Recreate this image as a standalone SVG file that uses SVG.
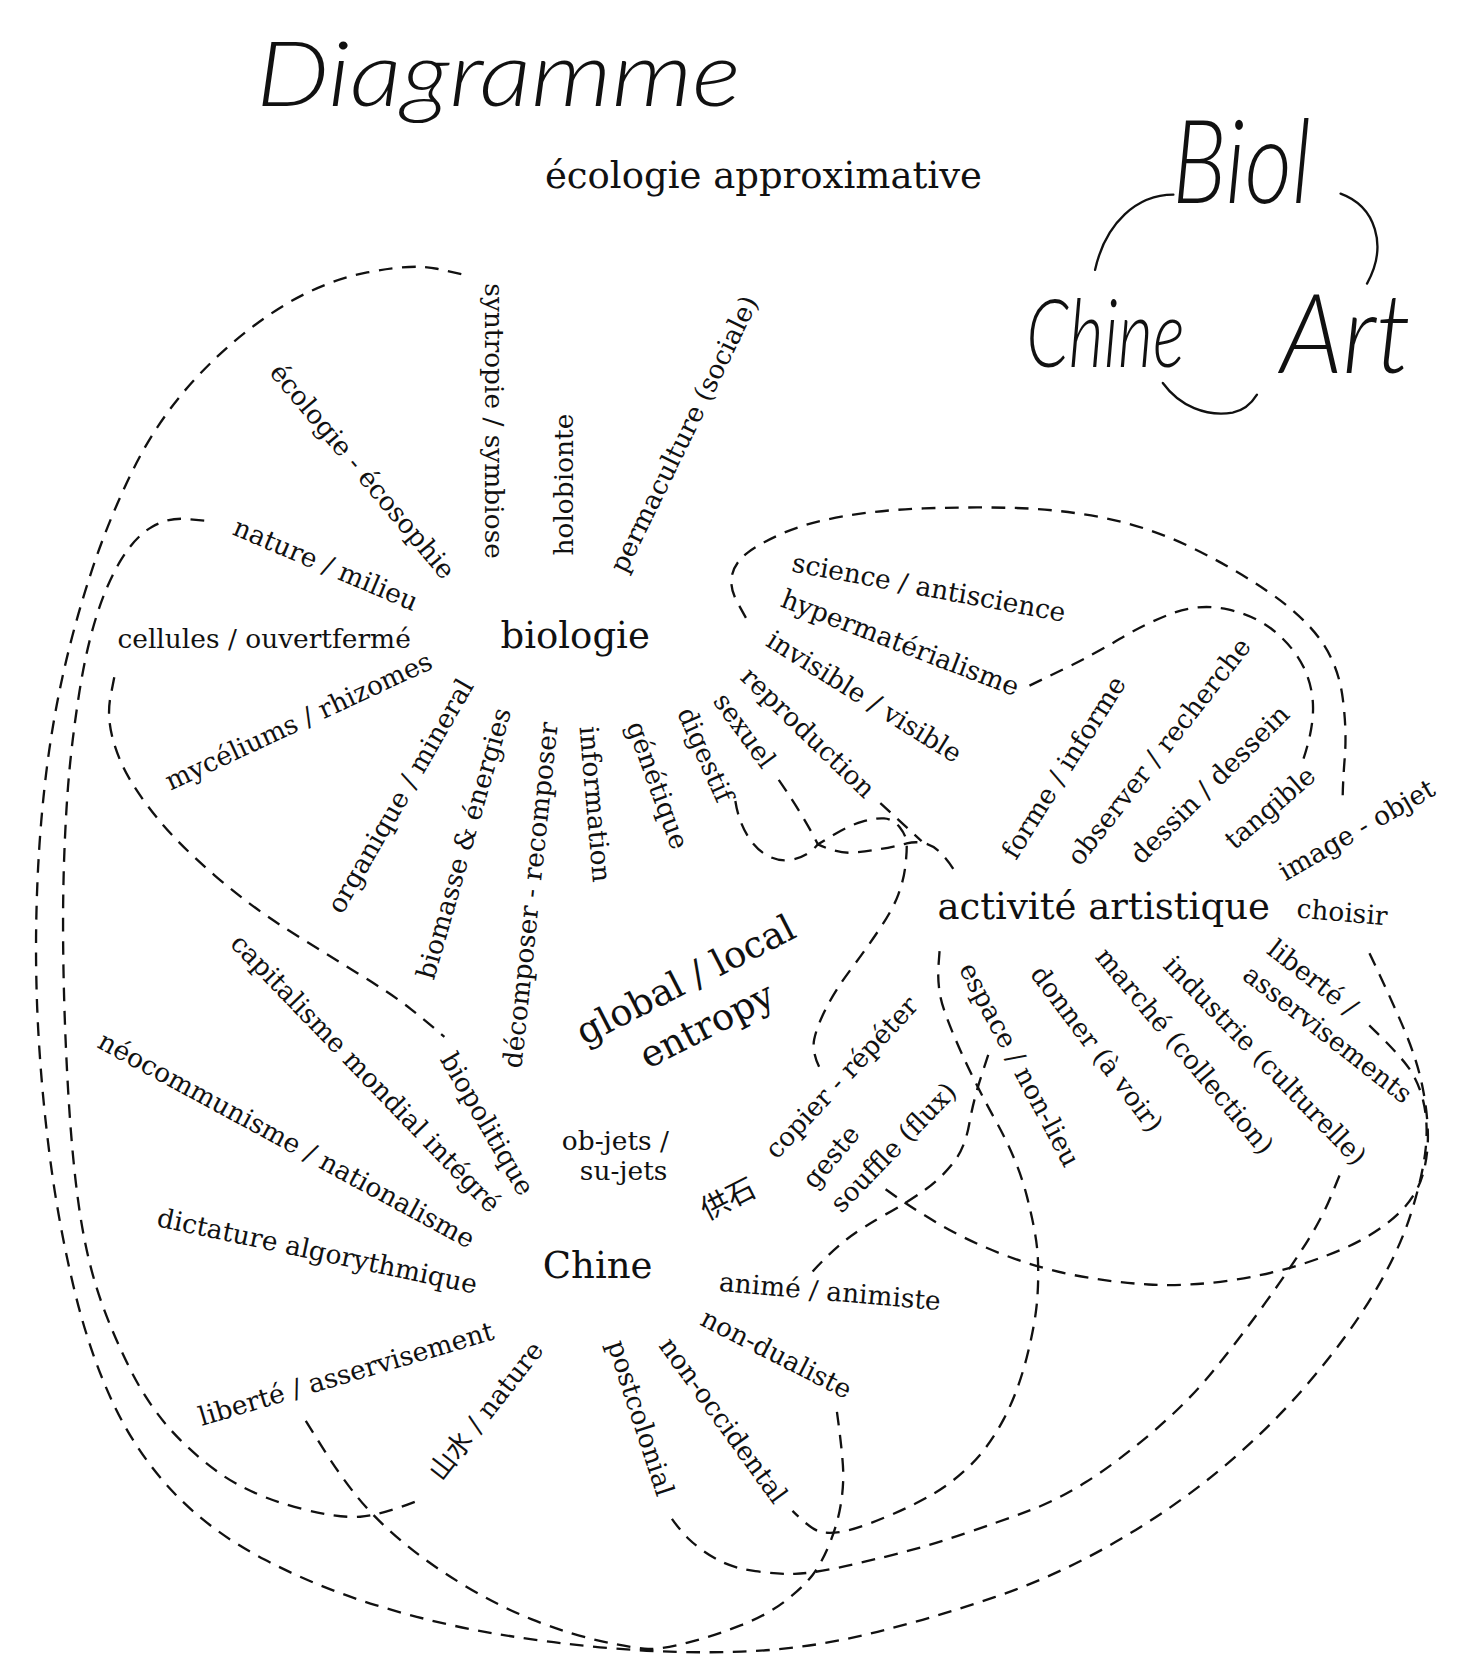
<svg xmlns="http://www.w3.org/2000/svg" width="1458" height="1659" viewBox="0 0 1458 1659">
<style>
.t{font-family:"DejaVu Serif","Noto Sans CJK SC",serif;font-size:25px;fill:#111}
.m{text-anchor:middle;dominant-baseline:central}
.hub{font-size:35px}
.hw{font-family:"Lato","Inter",sans-serif;font-weight:300;font-style:italic;fill:#111}
.c{fill:none;stroke:#111;stroke-width:2.2;stroke-dasharray:13 9}
.a{fill:none;stroke:#111;stroke-width:2.2;stroke-linecap:round}
</style>
<rect width="1458" height="1659" fill="#fff"/>
<g transform="scale(1.05806)">
<g id="title">
<text class="hw" transform="translate(242,100) scale(1.15,1)" style="font-size:85px">Diagramme</text>
<text class="t" x="515" y="178" style="font-size:35px">écologie approximative</text>
</g>
<g id="legend">
<text class="hw" transform="translate(1108,192) scale(0.79,1)" style="font-size:110px">Biol</text>
<text class="hw" transform="translate(970,347) scale(0.71,1)" style="font-size:90px">Chine</text>
<text class="hw" transform="translate(1210,353) scale(0.92,1)" style="font-size:105px">Art</text>
<path class="a" d="M1109,184 C1075,184 1045,210 1035,255"/>
<path class="a" d="M1267,183 C1300,195 1312,232 1292,268"/>
<path class="a" d="M1099,362 C1115,384 1140,394 1165,390 C1175,388 1183,381 1188,373"/>
</g>
<g id="connectors">
<path class="c" d="M436,259 L413,254 Q390,249 347,257.5 Q304,266 263,292 Q222,318 186,356.5 Q150,395 126.5,442.5 Q103,490 86.5,540 Q70,590 59,640 Q48,690 42,745 Q36,800 34.5,860 Q33,920 36.5,980 Q40,1040 48,1100 Q56,1160 70.5,1220 Q85,1280 107.5,1327.5 Q130,1375 165,1411.5 Q200,1448 250,1474 Q300,1500 355,1517 Q410,1534 465,1543.5 Q520,1553 580.5,1558 Q641,1563 700.5,1561 Q760,1559 820,1544.5 Q880,1530 940,1509.5 Q1000,1489 1055,1457 Q1110,1425 1155,1387.5 Q1200,1350 1237.5,1306 Q1275,1262 1299,1221.5 Q1323,1181 1334,1145.5 Q1345,1110 1347.5,1085 Q1350,1060 1345,1040 Q1340,1020 1329,1006 Q1318,992 1292,967"/>
<path class="c" d="M193,492 L176,490.5 Q159,489 143.5,498 Q128,507 114.5,529 Q101,551 91,583 Q81,615 74.5,657.5 Q68,700 65,735 Q62,770 60.5,815 Q59,860 60,916.5 Q61,973 64.5,1032.5 Q68,1092 74,1136 Q80,1180 90.5,1214.5 Q101,1249 121.5,1291 Q142,1333 171,1361.5 Q200,1390 226.5,1404 Q253,1418 287,1426.5 Q321,1435 340.5,1433.5 Q360,1432 393,1419"/>
<path class="c" d="M108,640 L104.5,658 Q101,676 106,696 Q111,716 121.5,734.5 Q132,753 150.5,775.5 Q169,798 202.5,827 Q236,856 270,877.5 Q304,899 337.5,919.5 Q371,940 388,953.5 Q405,967 420,980"/>
<path class="c" d="M289,1343 L305,1368.5 Q321,1394 337.5,1414.5 Q354,1435 379.5,1456.5 Q405,1478 439,1498.5 Q473,1519 506.5,1532 Q540,1545 570,1551.5 Q600,1558 612.5,1558.5 Q625,1559 650,1552.5 Q675,1546 700.5,1536 Q726,1526 743,1512.5 Q760,1499 768,1488.5 Q776,1478 783,1461.5 Q790,1445 793.5,1428 Q797,1411 797,1394 Q797,1377 790,1327"/>
<path class="c" d="M1266,1111 L1258,1130.5 Q1250,1150 1236,1172.5 Q1222,1195 1196.5,1230.5 Q1171,1266 1146,1296.5 Q1121,1327 1087,1355.5 Q1053,1384 1026,1401 Q999,1418 972,1428 Q945,1438 911.5,1449.5 Q878,1461 844,1469.5 Q810,1478 788,1482.5 Q766,1487 751,1487.5 Q736,1488 714,1485 Q692,1482 677,1473.5 Q662,1465 651.5,1455 Q641,1445 630,1428"/>
<path class="c" d="M888,899 L887,912.5 Q886,926 888.5,940.5 Q891,955 906,989 Q921,1023 941.5,1060 Q962,1097 970.5,1130.5 Q979,1164 980.5,1183 Q982,1202 980.5,1225.5 Q979,1249 970.5,1282.5 Q962,1316 948.5,1341.5 Q935,1367 918,1384 Q901,1401 881,1412.5 Q861,1424 835.5,1434.5 Q810,1445 796.5,1447.5 Q783,1450 774.5,1447.5 Q766,1445 749,1428"/>
<path class="c" d="M837,1124 L849,1132.5 Q861,1141 886,1156 Q911,1171 945,1184.5 Q979,1198 1014.5,1205 Q1050,1212 1085.5,1214 Q1121,1216 1160.5,1210.5 Q1200,1205 1236,1193 Q1272,1181 1293.5,1168 Q1315,1155 1327.5,1141 Q1340,1127 1345,1109 Q1350,1091 1349.5,1070.5 Q1349,1050 1344.5,1027.5 Q1340,1005 1330,980 Q1320,955 1292,896"/>
<path class="c" d="M934,997 L927,1018.5 Q920,1040 916,1062.5 Q912,1085 901,1099 Q890,1113 875,1124 Q860,1135 837.5,1147.5 Q815,1160 800,1171.5 Q785,1183 765,1205"/>
<path class="c" d="M736,737 Q760,772 773,798 L788,789 Q803,780 815,776.5 Q827,773 835.5,773.5 Q844,774 850.5,782 Q857,790 857,799 Q857,808 855.5,820 Q854,832 849,845.5 Q844,859 832,877 Q820,895 805,915 Q790,935 781,952.5 Q772,970 769.5,982.5 Q767,995 776,1012"/>
<path class="c" d="M695,757 C700,790 720,815 745,813 C760,811 768,804 773,798 Q790,806 803,806 Q831,804 857,797 Q875,793 888,805 Q898,815 905,828"/>
<path class="c" d="M832,759 L871,795"/>
<path class="c" d="M705,584 L697,569.5 Q689,555 692,543 Q695,531 707,522 Q719,513 741,503.5 Q763,494 797,488 Q831,482 873,480.5 Q915,479 957,480 Q999,481 1041,489 Q1083,497 1123,516 Q1163,535 1197.5,558.5 Q1232,582 1248.5,605.5 Q1265,629 1269,659.5 Q1273,690 1271,715.5 Q1269,741 1269,756"/>
<path class="c" d="M973,648 L1003,633.5 Q1033,619 1058,604 Q1083,589 1108.5,579.5 Q1134,570 1160.5,576 Q1187,582 1205,597 Q1223,612 1232,630.5 Q1241,649 1241,669.5 Q1241,690 1232,717"/>
</g>
<g id="biologie"><text class="t hub" x="473" y="612">biologie</text></g>
<g id="activite"><text class="t hub" x="886" y="869">activité artistique</text></g>
<g id="chine"><text class="t hub" x="513" y="1208">Chine</text></g>
<g id="global"><text class="t m hub" transform="translate(648,926) rotate(-27)">global / local</text><text class="t m hub" transform="translate(668,969) rotate(-27)">entropy</text></g>
<g id="syntropie"><text class="t m" transform="translate(467,398) rotate(90)">syntropie / symbiose</text></g>
<g id="holobionte"><text class="t m" transform="translate(533,458) rotate(-90)">holobionte</text></g>
<g id="permaculture"><text class="t m" transform="translate(646,410) rotate(-64)">permaculture (sociale)</text></g>
<g id="ecologie"><text class="t m" transform="translate(343,445) rotate(50)">écologie - écosophie</text></g>
<g id="nature"><text class="t m" transform="translate(308,533) rotate(23)">nature / milieu</text></g>
<g id="cellules"><text class="t" x="111" y="612">cellules / ouvertfermé</text></g>
<g id="myceliums"><text class="t m" transform="translate(282,681) rotate(-25)">mycéliums / rhizomes</text></g>
<g id="organique"><text class="t m" transform="translate(378,752) rotate(-60)">organique / mineral</text></g>
<g id="biomasse"><text class="t m" transform="translate(438,797) rotate(-74)">biomasse &amp; énergies</text></g>
<g id="decomposer"><text class="t m" transform="translate(501,846) rotate(-84)">décomposer - recomposer</text></g>
<g id="information"><text class="t m" transform="translate(563,760) rotate(85)">information</text></g>
<g id="genetique"><text class="t m" transform="translate(622,742) rotate(70)">génétique</text></g>
<g id="digestif"><text class="t m" transform="translate(667,713) rotate(66)">digestif</text></g>
<g id="sexuel"><text class="t m" transform="translate(704,690) rotate(54)">sexuel</text></g>
<g id="reproduction"><text class="t m" transform="translate(764,692) rotate(44)">reproduction</text></g>
<g id="invisible"><text class="t m" transform="translate(817,658) rotate(32)">invisible / visible</text></g>
<g id="hypermaterialisme"><text class="t m" transform="translate(851,607) rotate(21)">hypermatérialisme</text></g>
<g id="science"><text class="t m" transform="translate(878,555) rotate(10.5)">science / antiscience</text></g>
<g id="forme"><text class="t m" transform="translate(1005,725) rotate(-58)">forme / informe</text></g>
<g id="observer"><text class="t m" transform="translate(1095,710) rotate(-52)">observer / recherche</text></g>
<g id="dessin"><text class="t m" transform="translate(1143,741) rotate(-45)">dessin / dessein</text></g>
<g id="tangible"><text class="t m" transform="translate(1200,763) rotate(-41)">tangible</text></g>
<g id="image"><text class="t m" transform="translate(1282,784) rotate(-30)">image - objet</text></g>
<g id="choisir"><text class="t" transform="translate(1225,867) rotate(5)">choisir</text></g>
<g id="liberte-art"><text class="t m" transform="translate(1241,924) rotate(38)">liberté /</text><text class="t m" transform="translate(1255,977) rotate(38)">asservisements</text></g>
<g id="industrie"><text class="t m" transform="translate(1196,1002) rotate(46)">industrie (culturelle)</text></g>
<g id="marche"><text class="t m" transform="translate(1120,993) rotate(50)">marché (collection)</text></g>
<g id="donner"><text class="t m" transform="translate(1037,991) rotate(53)">donner (à voir)</text></g>
<g id="espace"><text class="t m" transform="translate(964,1006) rotate(62)">espace / non-lieu</text></g>
<g id="biopolitique"><text class="t m" transform="translate(461,1062) rotate(60)">biopolitique</text></g>
<g id="capitalisme"><text class="t m" transform="translate(346,1014) rotate(46)">capitalisme mondial intégré</text></g>
<g id="neocommunisme"><text class="t m" transform="translate(271,1077) rotate(28.5)">néocommunisme / nationalisme</text></g>
<g id="dictature"><text class="t m" transform="translate(300,1182) rotate(12)">dictature algorythmique</text></g>
<g id="liberte-chine"><text class="t m" transform="translate(327,1298) rotate(-16.5)">liberté / asservisement</text></g>
<g id="shanshui"><text class="t m" transform="translate(459,1333) rotate(-52)">山水 / nature</text></g>
<g id="postcolonial"><text class="t m" transform="translate(606,1340) rotate(72)">postcolonial</text></g>
<g id="non-occidental"><text class="t m" transform="translate(684,1342) rotate(54)">non-occidental</text></g>
<g id="non-dualiste"><text class="t m" transform="translate(734,1279) rotate(27)">non-dualiste</text></g>
<g id="anime"><text class="t" transform="translate(679,1220) rotate(5)">animé / animiste</text></g>
<g id="objets"><text class="t" x="531" y="1087">ob-jets /</text><text class="t" x="548" y="1115">su-jets</text></g>
<g id="gongshi"><text class="t m" style="font-size:27px" transform="translate(688,1133) rotate(-27)">供石</text></g>
<g id="copier"><text class="t m" transform="translate(795,1018) rotate(-47)">copier - répéter</text></g>
<g id="geste"><text class="t m" transform="translate(785,1093) rotate(-50)">geste</text></g>
<g id="souffle"><text class="t m" transform="translate(844,1084) rotate(-46)">souffle (flux)</text></g>
</g>
</svg>
